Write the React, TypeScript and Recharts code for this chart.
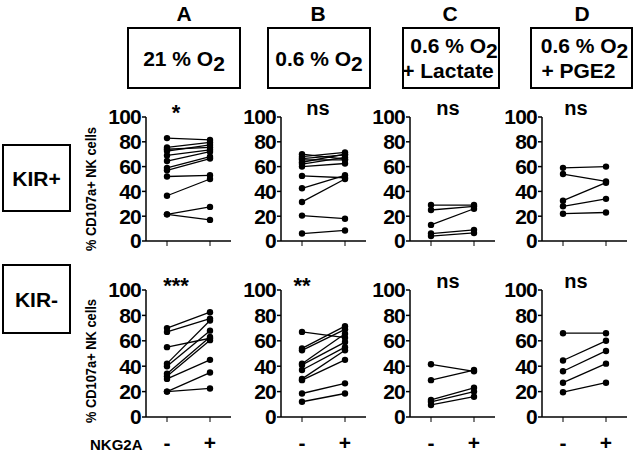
import React from 'react';
import { LineChart, Line, XAxis, YAxis } from 'recharts';

const groups = ['-', '+'];
const yTicks = [0, 20, 40, 60, 80, 100];
const panelLetters = ['A', 'B', 'C', 'D'];
const rowLabels = ['KIR+', 'KIR-'];
const topSignif = ['*', 'ns', 'ns', 'ns'];
const bottomSignif = ['***', '**', 'ns', 'ns'];

// KIR+ row
const kirPosAMinus = [83, 75.5, 74, 72.5, 69, 64.5, 59, 57, 52, 36.5, 21.5, 21.5];
const kirPosAPlus = [81.5, 79.5, 75.5, 77.5, 73.5, 72, 68, 66.5, 53, 50, 27.5, 17];
const kirPosBMinus = [70, 68, 66.5, 65.5, 63.5, 62, 60, 52.5, 42.5, 31.5, 20.5, 6];
const kirPosBPlus = [66, 71.5, 69.5, 65.5, 70, 67.5, 62.5, 51, 53, 50, 18, 8.5];
const kirPosCMinus = [29, 25, 13, 6, 4];
const kirPosCPlus = [29, 28, 26, 9, 6.5];
const kirPosDMinus = [59, 54, 32.5, 28, 22];
const kirPosDPlus = [60, 48, 47, 34, 23];

// KIR- row
const kirNegAMinus = [70, 67, 55, 42, 40, 34, 32, 30, 20, 20];
const kirNegAPlus = [82.5, 77.5, 62, 76, 68, 63, 60.5, 45, 35, 22.5];
const kirNegBMinus = [67, 54, 52.5, 42, 41, 37, 30, 29, 18.5, 12];
const kirNegBPlus = [62.5, 71.5, 69, 65.5, 59, 55, 52.5, 45, 26.5, 18.5];
const kirNegCMinus = [41.5, 29, 13.5, 12, 9.5];
const kirNegCPlus = [36, 37, 23, 20, 16];
const kirNegDMinus = [66, 44.5, 36, 27, 19.5];
const kirNegDPlus = [66, 60, 52, 42, 27];

const FONT = '"Liberation Sans", Arial, Helvetica, sans-serif';
const YW = 60;
const PLOT_W = 85;
const MT = 16;
const XH = 40;
const axisXs = [146, 281, 410, 542];

function buildData(minus: number[], plus: number[]) {
  return groups.map((g, gi) => {
    const row: Record<string, any> = { g };
    minus.forEach((v, i) => {
      row['s' + i] = gi === 0 ? v : plus[i];
    });
    return row;
  });
}

function Panel(props: { axisX: number; y100: number; y0: number; minus: number[]; plus: number[]; showX: boolean }) {
  const { axisX, y100, y0, minus, plus, showX } = props;
  const data = buildData(minus, plus);
  const plotH = y0 - y100;
  const renderTick = (p: any) => {
    if (!showX) return <g />;
    return (
      <text x={p.x} y={p.y + 18} textAnchor="middle" dominantBaseline="central" fontSize={21} fontWeight="bold" fontFamily={FONT} fill="#000">
        {p.payload.value}
      </text>
    );
  };
  return (
    <div style={{ position: 'absolute', left: axisX - YW, top: y100 - MT }}>
      <LineChart width={YW + PLOT_W + 4} height={MT + plotH + XH} data={data} margin={{ top: MT, right: 4, bottom: 0, left: 0 }}>
        <XAxis
          dataKey="g"
          height={XH}
          padding={{ left: 21, right: 21 }}
          axisLine={{ stroke: '#000', strokeWidth: 1.5 }}
          tickLine={{ stroke: '#000', strokeWidth: 1 }}
          tickSize={5}
          tick={renderTick}
          interval={0}
        />
        <YAxis
          type="number"
          domain={[0, 100]}
          ticks={yTicks}
          width={YW}
          axisLine={{ stroke: '#000', strokeWidth: 1.5 }}
          tickLine={{ stroke: '#000', strokeWidth: 1.5 }}
          tickSize={4}
          tickMargin={1}
          tick={{ fill: '#000', fontSize: 21, fontWeight: 'bold', fontFamily: FONT, letterSpacing: -0.8 }}
          interval={0}
        />
        {minus.map((_, i) => (
          <Line
            key={i}
            type="linear"
            dataKey={'s' + i}
            stroke="#000"
            strokeWidth={1.3}
            dot={{ r: 3.2, fill: '#000', stroke: '#000', strokeWidth: 0 }}
            isAnimationActive={false}
          />
        ))}
      </LineChart>
    </div>
  );
}

const boxes = [
  { x: 128, w: 112, lines: ['21 % O'] },
  { x: 268, w: 102, lines: ['0.6 % O'] },
  { x: 403, w: 96, lines: ['0.6 % O', '+ Lactate'] },
  { x: 531, w: 101, lines: ['0.6 % O', '+ PGE2'] },
];

const BOX_TOP = 28;
const BOX_H = 60;

export default function App() {
  const topRow = [
    [kirPosAMinus, kirPosAPlus],
    [kirPosBMinus, kirPosBPlus],
    [kirPosCMinus, kirPosCPlus],
    [kirPosDMinus, kirPosDPlus],
  ];
  const bottomRow = [
    [kirNegAMinus, kirNegAPlus],
    [kirNegBMinus, kirNegBPlus],
    [kirNegCMinus, kirNegCPlus],
    [kirNegDMinus, kirNegDPlus],
  ];
  return (
    <div style={{ position: 'absolute', left: 0, top: 0, width: 641, height: 452, background: '#fff', fontFamily: FONT }}>
      <svg width={641} height={452} style={{ position: 'absolute', left: 0, top: 0 }}>
        {panelLetters.map((l, i) => (
          <text key={l} x={[184, 318, 450, 582][i]} y={13} textAnchor="middle" dominantBaseline="central" fontSize={21} fontWeight="bold" fontFamily={FONT}>
            {l}
          </text>
        ))}
        {boxes.map((b, i) => (
          <g key={i}>
            <rect x={b.x} y={BOX_TOP} width={b.w} height={BOX_H} fill="none" stroke="#000" strokeWidth={2} />
            {b.lines.length === 1 ? (
              <text x={b.x + b.w / 2} y={BOX_TOP + 38} textAnchor="middle" fontSize={21} fontWeight="bold" fontFamily={FONT}>
                {b.lines[0]}
                <tspan dy={5}>2</tspan>
              </text>
            ) : (
              <>
                <text x={b.x + b.w / 2 + 3} y={BOX_TOP + 25} textAnchor="middle" fontSize={21} fontWeight="bold" fontFamily={FONT}>
                  {b.lines[0]}
                  <tspan dy={5}>2</tspan>
                </text>
                <text x={b.x + b.w / 2 - 3} y={BOX_TOP + 50} textAnchor="middle" fontSize={21} fontWeight="bold" fontFamily={FONT}>
                  {b.lines[1]}
                </text>
              </>
            )}
          </g>
        ))}
        {topSignif.map((s, i) => (
          <text key={'ts' + i} x={[176, 318, 448, 576][i]} y={s === '*' ? 112 : 108} textAnchor="middle" dominantBaseline="central" fontSize={s === '*' ? 22 : 20} fontWeight="bold" fontFamily={FONT}>
            {s}
          </text>
        ))}
        {bottomSignif.map((s, i) => (
          <text key={'bs' + i} x={[176, 302, 448, 576][i]} y={s.startsWith('*') ? 285 : 281} textAnchor="middle" dominantBaseline="central" fontSize={s.startsWith('*') ? 22 : 20} fontWeight="bold" fontFamily={FONT}>
            {s}
          </text>
        ))}
        <rect x={3} y={145} width={67} height={66} fill="none" stroke="#000" strokeWidth={2} />
        <text x={36.5} y={178} textAnchor="middle" dominantBaseline="central" fontSize={21} fontWeight="bold" fontFamily={FONT}>
          {rowLabels[0]}
        </text>
        <rect x={3} y={265} width={67} height={68} fill="none" stroke="#000" strokeWidth={2} />
        <text x={36.5} y={299} textAnchor="middle" dominantBaseline="central" fontSize={21} fontWeight="bold" fontFamily={FONT}>
          {rowLabels[1]}
        </text>
        <text transform="translate(90,189) rotate(-90)" textAnchor="middle" dominantBaseline="central" fontSize={15} fontWeight="bold" fontFamily={FONT} textLength={124} lengthAdjust="spacingAndGlyphs">
          % CD107a+ NK cells
        </text>
        <text transform="translate(90,361) rotate(-90)" textAnchor="middle" dominantBaseline="central" fontSize={15} fontWeight="bold" fontFamily={FONT} textLength={124} lengthAdjust="spacingAndGlyphs">
          % CD107a+ NK cells
        </text>
        <text x={90} y={444} dominantBaseline="central" fontSize={15} fontWeight="bold" fontFamily={FONT}>
          NKG2A
        </text>
      </svg>
      {topRow.map(([mn, pl], i) => (
        <Panel key={'t' + i} axisX={axisXs[i]} y100={117} y0={241} minus={mn} plus={pl} showX={false} />
      ))}
      {bottomRow.map(([mn, pl], i) => (
        <Panel key={'b' + i} axisX={axisXs[i]} y100={290} y0={417} minus={mn} plus={pl} showX={true} />
      ))}
    </div>
  );
}
